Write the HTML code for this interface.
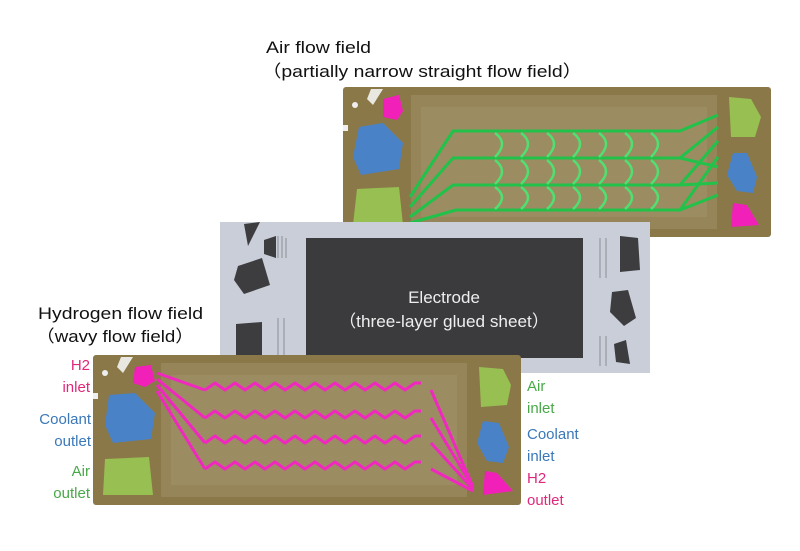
<!DOCTYPE html>
<html><head><meta charset="utf-8"><style>
html,body{margin:0;padding:0;background:#fff;width:800px;height:551px;overflow:hidden}
svg{display:block}
text{font-family:"Liberation Sans",Arial,sans-serif}
</style></head><body>
<svg width="800" height="551" viewBox="0 0 800 551" xmlns="http://www.w3.org/2000/svg">
<defs>
<g id="plate">
  <rect x="0" y="0" width="428" height="150" rx="3" fill="#8a7848"/>
  <rect x="68" y="8" width="306" height="134" fill="#958558"/>
  <rect x="78" y="20" width="286" height="110" fill="#9c8c62"/>
  <path d="M28 2 L40 2 L30 18 L24 12Z" fill="#e8e8e0"/>
  <circle cx="12" cy="18" r="3" fill="#eee"/>
  <rect x="0" y="38" width="5" height="6" fill="#eee"/>
</g>
</defs>

<!-- top plate -->
<g transform="translate(343,87)">
  <use href="#plate"/>
  <path d="M40 12 L56 8 L60 24 L54 33 L40 30Z" fill="#f020b8"/>
  <path d="M16 40 L40 36 L60 56 L56 82 L18 88 L10 70Z" fill="#4a82c8"/>
  <path d="M14 102 L56 100 L60 138 L10 138Z" fill="#98bf52"/>
  <path d="M386 10 L408 12 L418 30 L412 50 L388 50Z" fill="#98bf52"/>
  <path d="M390 66 L404 66 L414 90 L410 106 L394 104 L384 88Z" fill="#4a82c8"/>
  <path d="M390 116 L404 118 L416 138 L388 140Z" fill="#f020b8"/>
  <g stroke="#22c24a" stroke-width="3" fill="none" stroke-linejoin="round">
    <path d="M67 136 L113 123 L337 123 L375 108"/>
    <path d="M67 130 L110 98 L337 98 L375 96"/>
    <path d="M67 120 L110 71 L337 71 L375 80"/>
    <path d="M67 110 L110 44 L337 44 L375 28"/>
    <path d="M337 123 L375 70 M337 98 L375 54 M337 71 L375 40"/>
  </g>
  <g stroke="#50e070" stroke-width="2.5" fill="none">
    <path id="cr" d="M152 46 Q166 56 152 70 M152 73 Q166 84 152 97 M152 100 Q166 110 152 122"/>
    <use href="#cr" x="26"/><use href="#cr" x="52"/><use href="#cr" x="78"/>
    <use href="#cr" x="104"/><use href="#cr" x="130"/><use href="#cr" x="156"/>
  </g>
</g>

<!-- electrode -->
<rect x="220" y="222" width="430" height="151" fill="#c9ced8"/>
<rect x="306" y="238" width="277" height="120" fill="#3b3b3e"/>
<path d="M238 266 L262 258 L270 285 L244 294 L234 280Z" fill="#3d3d40"/>
<path d="M236 324 L262 322 L262 372 L236 372Z" fill="#3d3d40"/>
<path d="M264 240 L276 236 L276 258 L264 254Z" fill="#3d3d40"/>
<path d="M244 224 L260 222 L248 246Z" fill="#3d3d40"/>
<path d="M620 236 L638 238 L640 270 L620 272Z" fill="#3d3d40"/>
<path d="M612 292 L628 290 L636 318 L624 326 L610 312Z" fill="#3d3d40"/>
<path d="M614 344 L626 340 L630 364 L616 362Z" fill="#3d3d40"/>
<g stroke="#8a8e96" stroke-width="1"><path d="M278 236 v22 M282 236 v22 M286 238 v20 M278 318 v40 M284 318 v40 M600 238 v40 M606 238 v40 M600 336 v30 M606 336 v30"/></g>
<text x="444" y="303" font-size="17" fill="#eee" text-anchor="middle">Electrode</text>
<text x="444" y="327" font-size="17" fill="#eee" text-anchor="middle" textLength="210" lengthAdjust="spacingAndGlyphs">（three-layer glued sheet）</text>

<!-- bottom plate -->
<g transform="translate(93,355)">
  <use href="#plate"/>
  <path d="M42 12 L58 10 L62 26 L52 32 L40 28Z" fill="#f020b8"/>
  <path d="M16 40 L42 38 L62 58 L58 84 L20 88 L12 70Z" fill="#4a82c8"/>
  <path d="M12 104 L56 102 L60 140 L10 140Z" fill="#98bf52"/>
  <path d="M386 12 L410 14 L418 30 L414 50 L388 52Z" fill="#98bf52"/>
  <path d="M390 66 L406 68 L416 92 L410 108 L394 106 L384 88Z" fill="#4a82c8"/>
  <path d="M392 116 L404 118 L420 136 L390 140Z" fill="#f020b8"/>
  <g stroke="#f028c0" stroke-width="3" fill="none" stroke-linejoin="round">
    <path d="M64 18 L112 35 M64 24 L112 63 M64 30 L112 88 M64 36 L112 114"/>
    <path d="M338 35 L380 132 M338 63 L380 132 M338 88 L380 134 M338 114 L380 136"/>
    <path id="wv" d="M112 35 l10 -7 l10 7 l10 -7 l10 7 l10 -7 l10 7 l10 -7 l10 7 l10 -7 l10 7 l10 -7 l10 7 l10 -7 l10 7 l10 -7 l10 7 l10 -7 l10 7 l10 -7 l10 7 l10 -7 l6 0"/>
    <use href="#wv" y="28"/><use href="#wv" y="53"/><use href="#wv" y="79"/>
  </g>
</g>

<!-- titles -->
<text x="266" y="53" font-size="17" fill="#111" textLength="105" lengthAdjust="spacingAndGlyphs">Air flow field</text>
<text x="262" y="77" font-size="17" fill="#111" textLength="320" lengthAdjust="spacingAndGlyphs">（partially narrow straight flow field）</text>
<text x="38" y="319" font-size="17" fill="#111" textLength="165" lengthAdjust="spacingAndGlyphs">Hydrogen flow field</text>
<text x="36" y="342" font-size="17" fill="#111" textLength="158" lengthAdjust="spacingAndGlyphs">（wavy flow field）</text>

<!-- side labels -->
<g font-size="15" text-anchor="end">
  <text x="90" y="370" fill="#e0287a">H2</text>
  <text x="90" y="392" fill="#e0287a">inlet</text>
  <text x="91" y="424" fill="#3a78b8">Coolant</text>
  <text x="91" y="446" fill="#3a78b8">outlet</text>
  <text x="90" y="476" fill="#48a848">Air</text>
  <text x="90" y="498" fill="#48a848">outlet</text>
</g>
<g font-size="15">
  <text x="527" y="391" fill="#48a848">Air</text>
  <text x="527" y="413" fill="#48a848">inlet</text>
  <text x="527" y="439" fill="#3a78b8">Coolant</text>
  <text x="527" y="461" fill="#3a78b8">inlet</text>
  <text x="527" y="483" fill="#e0287a">H2</text>
  <text x="527" y="505" fill="#e0287a">outlet</text>
</g>
</svg>
</body></html>
